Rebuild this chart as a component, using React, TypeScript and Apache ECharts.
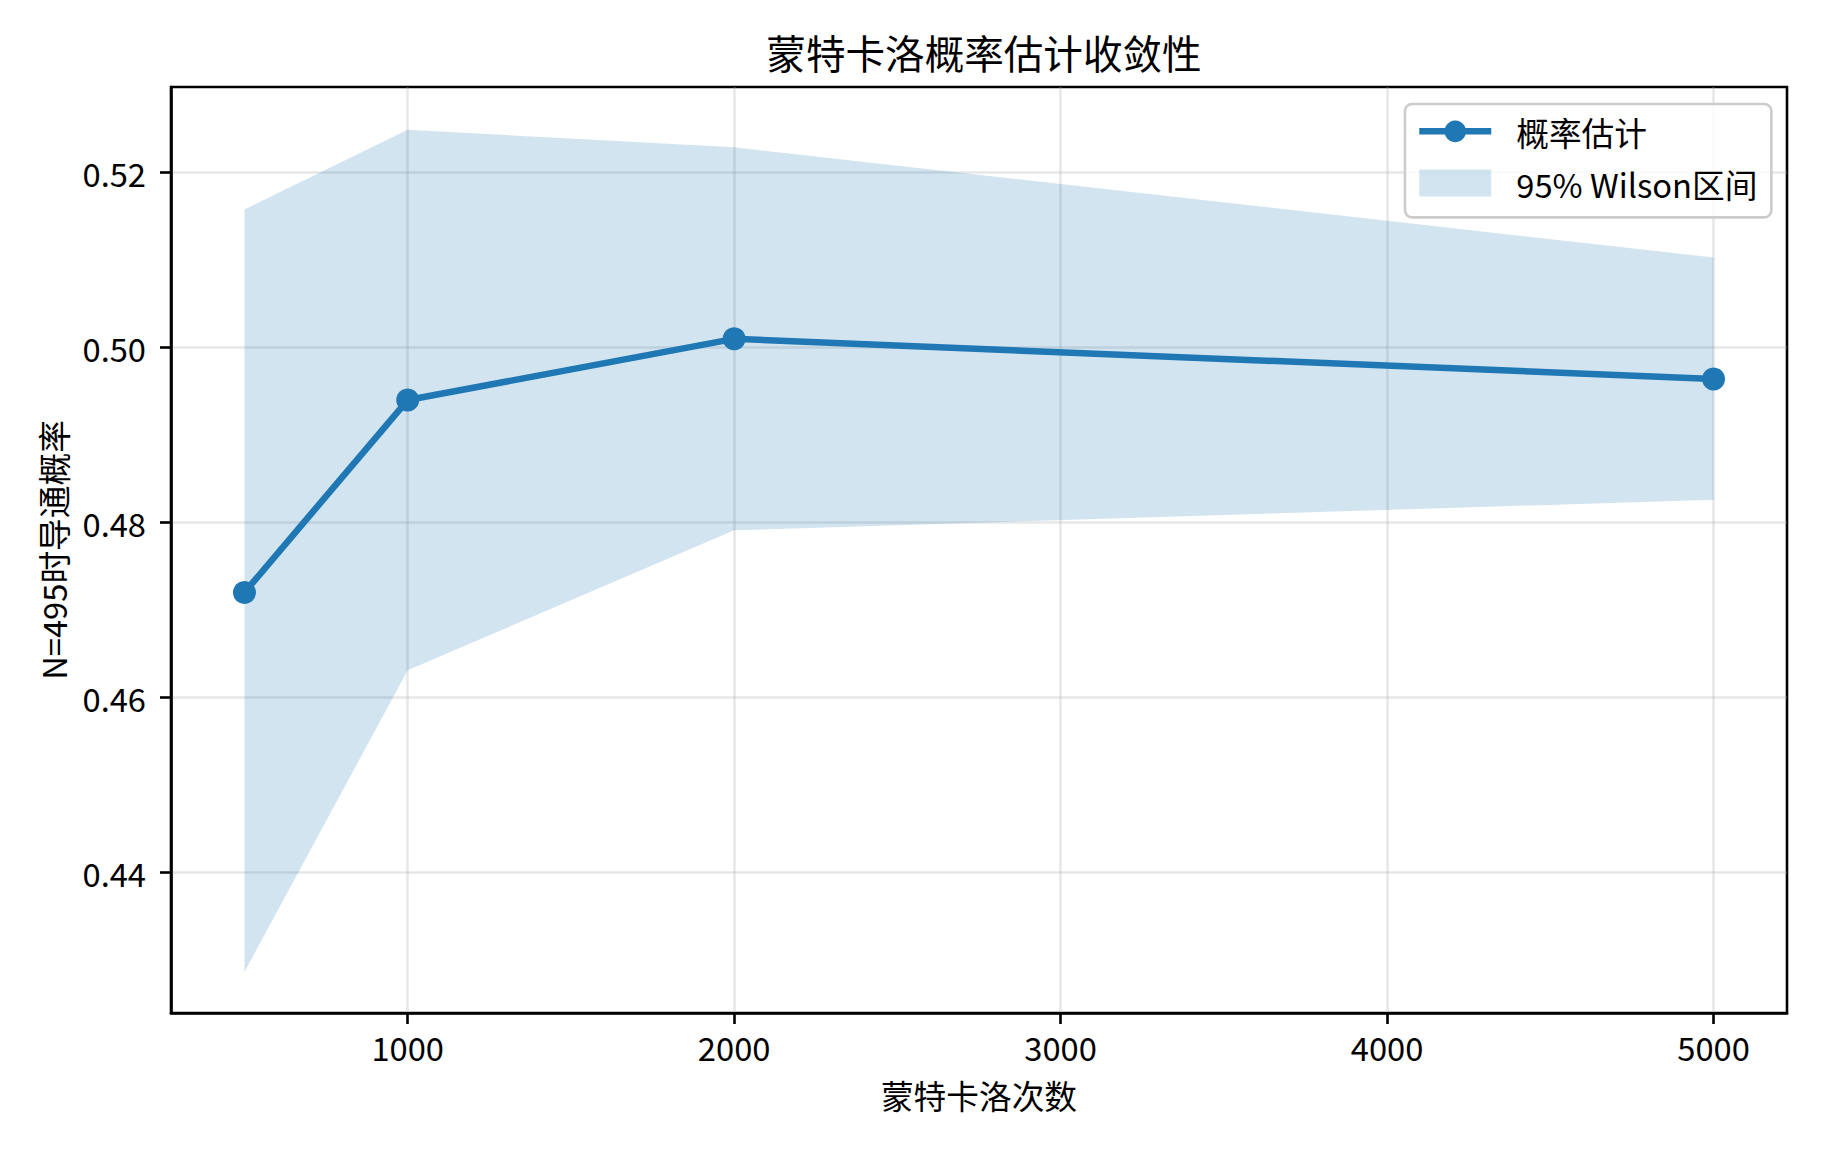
import React, { useEffect, useRef } from "react";
import * as echarts from "echarts";

const trials = [500, 1000, 2000, 5000];
const estimate = [0.472, 0.494, 0.501, 0.4964];
const wilsonLower = [0.4286, 0.4631, 0.4791, 0.4826];
const wilsonUpper = [0.5158, 0.5249, 0.5229, 0.5103];
const xTicks = [1000, 2000, 3000, 4000, 5000];
const yTicks = [0.44, 0.46, 0.48, 0.5, 0.52];

const FONT = "Noto Sans CJK SC";
const BLUE = "#1f77b4";

export default function App() {
  const ref = useRef<HTMLDivElement>(null);
  useEffect(() => {
    document.body.style.margin = "0";
    const chart = echarts.init(ref.current!, null, { renderer: "svg" });
    const axisCommon = {
      axisLine: { show: true, lineStyle: { color: "#000", width: 2.6 } },
      axisTick: { show: true, length: 11, lineStyle: { color: "#000", width: 2.6 } },
      splitLine: { show: true, lineStyle: { color: "rgba(176,176,176,0.3)", width: 2.6 } },
      nameTextStyle: { fontFamily: FONT, fontSize: 32.7, color: "#000" },
    };
    chart.setOption({
      animation: false,
      backgroundColor: "#fff",
      textStyle: { fontFamily: FONT },
      title: {
        text: "蒙特卡洛概率估计收敛性",
        left: 979,
        textAlign: "center",
        top: 27,
        textStyle: { fontFamily: FONT, fontSize: 39.6, fontWeight: "normal", color: "#000" },
      },
      grid: {
        left: 171,
        right: 37,
        top: 87,
        bottom: 139,
        show: true,
        borderColor: "#000",
        borderWidth: 2.6,
        backgroundColor: "transparent",
      },
      legend: {
        left: 1405,
        top: 104,
        orient: "vertical",
        backgroundColor: "rgba(255,255,255,0.8)",
        borderColor: "#cccccc",
        borderWidth: 2.6,
        borderRadius: 7,
        padding: [11, 14, 18, 11],
        itemGap: 19,
        itemWidth: 72,
        itemHeight: 27,
        textStyle: { fontFamily: FONT, fontSize: 32.7, color: "#000", padding: [0, 0, 0, 20] },
        data: [
          { name: "概率估计", lineStyle: { width: 6.5, color: BLUE } },
          { name: "95% Wilson区间", icon: "rect" },
        ],
      },
      xAxis: {
        type: "value",
        min: 275,
        max: 5225,
        name: "蒙特卡洛次数",
        nameLocation: "middle",
        nameGap: 65,
        ...axisCommon,
        axisTick: { ...axisCommon.axisTick, customValues: xTicks },
        axisLabel: {
          customValues: xTicks,
          margin: 17,
          fontFamily: FONT,
          fontSize: 32.7,
          color: "#000",
          formatter: (v: number) => String(v),
        },
      },
      yAxis: {
        type: "value",
        min: 0.4239,
        max: 0.5298,
        name: "N=495时导通概率",
        nameLocation: "middle",
        nameGap: 102,
        ...axisCommon,
        axisTick: { ...axisCommon.axisTick, customValues: yTicks },
        axisLabel: {
          customValues: yTicks,
          margin: 25,
          fontFamily: FONT,
          fontSize: 32.7,
          color: "#000",
          formatter: (v: number) => v.toFixed(2),
        },
      },
      series: [
        {
          type: "custom",
          name: "95% Wilson区间",
          itemStyle: { color: "rgba(31,119,180,0.2)" },
          data: trials.map((x, i) => [x, wilsonLower[i], wilsonUpper[i]]),
          encode: { x: 0, y: [1, 2] },
          z: 1,
          renderItem: (params: any, api: any) => {
            if (params.dataIndex !== 0) return null;
            const up = trials.map((x, i) => api.coord([x, wilsonUpper[i]]));
            const lo = trials.map((x, i) => api.coord([x, wilsonLower[i]])).reverse();
            return {
              type: "polygon",
              shape: { points: up.concat(lo) },
              style: { fill: "rgba(31,119,180,0.2)" },
            };
          },
        },
        {
          type: "line",
          name: "概率估计",
          data: trials.map((x, i) => [x, estimate[i]]),
          symbol: "circle",
          symbolSize: 23,
          lineStyle: { color: BLUE, width: 6.5 },
          itemStyle: { color: BLUE },
          z: 3,
        },
      ],
    });
    return () => chart.dispose();
  }, []);
  return (
    <div
      ref={ref}
      style={{ position: "fixed", left: 0, top: 0, width: 1824, height: 1152 }}
    />
  );
}
